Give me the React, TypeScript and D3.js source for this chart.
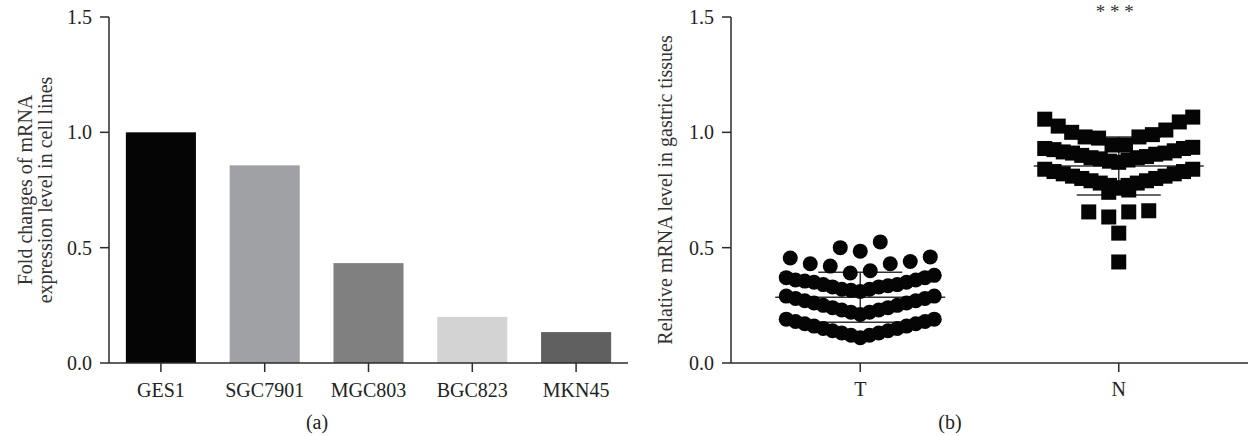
import * as d3 from "d3";

// (a) cell lines bar chart
const cellLines = ["GES1", "SGC7901", "MGC803", "BGC823", "MKN45"];
const foldChanges = [1.0, 0.857, 0.433, 0.2, 0.134];
const barColors = ["#050505", "#a0a1a5", "#808080", "#d3d3d3", "#5f605f"];

// (b) tissues scatter dot plot
const groups = ["T", "N"];
const tumorValues = [
  0.11, 0.12, 0.12, 0.13, 0.13, 0.14, 0.14, 0.15, 0.15, 0.16, 0.16, 0.17, 0.17, 0.18, 0.18, 0.19, 0.19,
  0.21, 0.22, 0.22, 0.23, 0.23, 0.24, 0.24, 0.25, 0.25, 0.26, 0.26, 0.27, 0.27, 0.28, 0.28, 0.29, 0.29,
  0.31, 0.315, 0.32, 0.32, 0.33, 0.33, 0.335, 0.34, 0.34, 0.35, 0.35, 0.355, 0.36, 0.36, 0.37, 0.37, 0.38,
  0.39, 0.40, 0.42, 0.43, 0.43, 0.44, 0.455, 0.46,
  0.485, 0.50, 0.525,
];
const normalValues = [
  0.438, 0.563, 0.633, 0.655, 0.655, 0.66, 0.74, 0.75,
  0.76, 0.77, 0.77, 0.78, 0.78, 0.79, 0.79, 0.80, 0.80, 0.81, 0.81, 0.82, 0.82, 0.83, 0.83, 0.84, 0.84,
  0.87, 0.875, 0.88, 0.885, 0.89, 0.89, 0.895, 0.90, 0.905, 0.91, 0.91, 0.915, 0.92, 0.925, 0.93, 0.93, 0.935,
  0.945, 0.945, 0.975, 0.98, 0.98, 0.99, 1.0, 1.01, 1.027, 1.045, 1.057, 1.066,
];
const tumorRows = [0.1, 0.2, 0.3, 0.385, 0.475, 0.6];
const normalRows = [0.4, 0.5, 0.6, 0.7, 0.755, 0.85, 0.94, 1.1];
const yTicks = [0, 0.5, 1.0, 1.5];

const font = "'Liberation Serif', 'Times New Roman', serif";
const axisColor = "#2b2b2b";

// GraphPad-like spreading: values in a row sorted, lowest in the middle
function spread(values: number[], edges: number[], halfWidth: number, maxGap: number) {
  const rows = edges.slice(0, -1).map((lo, i) =>
    values.filter((v) => v >= lo && v < edges[i + 1]).sort(d3.ascending)
  );
  return rows.flatMap((row) => {
    const n = row.length;
    const gap = n > 1 ? Math.min(maxGap, (2 * halfWidth) / (n - 1)) : 0;
    const slots = d3
      .range(n)
      .map((k) => (k - (n - 1) / 2) * gap)
      .sort((a, b) => Math.abs(a) - Math.abs(b) || a - b);
    return row.map((v, i) => ({ value: v, dx: slots[i] }));
  });
}

function YAxis({ x, y }: { x: number; y: d3.ScaleLinear<number, number> }) {
  return (
    <g>
      <line x1={x} x2={x} y1={y(1.5)} y2={y(0)} stroke={axisColor} strokeWidth={1.5} />
      {yTicks.map((t) => (
        <g key={t}>
          <line x1={x - 9} x2={x} y1={y(t)} y2={y(t)} stroke={axisColor} strokeWidth={1.5} />
          <text x={x - 17} y={y(t)} textAnchor="end" dominantBaseline="central" fontSize={20} fill="#222">
            {t.toFixed(1)}
          </text>
        </g>
      ))}
    </g>
  );
}

export default function App() {
  const y = d3.scaleLinear().domain([0, 1.5]).range([363, 17]);

  const xBar = d3
    .scaleBand<string>()
    .domain(cellLines)
    .range([109, 628])
    .paddingInner(0.325)
    .paddingOuter(0.1625);

  const xGroup = d3.scaleBand<string>().domain(groups).range([731, 1248]);
  const gx = (g: string) => (xGroup(g) ?? 0) + xGroup.bandwidth() / 2;

  const tumorPts = spread(tumorValues, tumorRows, 74, 20);
  const normalPts = spread(normalValues, normalRows, 74, 20);

  const stats = [
    { group: "T", values: tumorValues },
    { group: "N", values: normalValues },
  ].map((d) => ({
    group: d.group,
    mean: d3.mean(d.values) ?? 0,
    sd: d3.deviation(d.values) ?? 0,
  }));

  return (
    <svg
      width={1248}
      height={436}
      style={{ position: "absolute", left: 0, top: 0, background: "#fff" }}
      fontFamily={font}
    >
      {/* (a) */}
      <g>
        {cellLines.map((c, i) => (
          <rect
            key={c}
            x={xBar(c)}
            y={y(foldChanges[i])}
            width={xBar.bandwidth()}
            height={y(0) - y(foldChanges[i])}
            fill={barColors[i]}
          />
        ))}
        <YAxis x={109} y={y} />
        <line x1={109} x2={628} y1={y(0)} y2={y(0)} stroke={axisColor} strokeWidth={1.5} />
        {cellLines.map((c) => {
          const cx = (xBar(c) ?? 0) + xBar.bandwidth() / 2;
          return (
            <g key={c}>
              <line x1={cx} x2={cx} y1={y(0)} y2={y(0) + 9} stroke={axisColor} strokeWidth={1.5} />
              <text x={cx} y={397} textAnchor="middle" fontSize={20} fill="#222">
                {c}
              </text>
            </g>
          );
        })}
        <text transform="translate(32,190) rotate(-90)" textAnchor="middle" fontSize={20} fill="#333">
          Fold changes of mRNA
        </text>
        <text transform="translate(52,190) rotate(-90)" textAnchor="middle" fontSize={20} fill="#333">
          expression level in cell lines
        </text>
        <text x={317} y={429} textAnchor="middle" fontSize={20} fill="#222">
          (a)
        </text>
      </g>

      {/* (b) */}
      <g>
        {stats.map((s) => {
          const cx = gx(s.group);
          return (
            <g key={s.group} stroke="#333" strokeWidth={1.5}>
              <line x1={cx - 85} x2={cx + 85} y1={y(s.mean)} y2={y(s.mean)} />
              <line x1={cx} x2={cx} y1={y(s.mean - s.sd)} y2={y(s.mean + s.sd)} />
              <line x1={cx - 42} x2={cx + 42} y1={y(s.mean + s.sd)} y2={y(s.mean + s.sd)} />
              <line x1={cx - 42} x2={cx + 42} y1={y(s.mean - s.sd)} y2={y(s.mean - s.sd)} />
            </g>
          );
        })}
        {tumorPts.map((p, i) => (
          <circle key={`t-${i}`} cx={gx("T") + p.dx} cy={y(p.value)} r={7.5} fill="#050505" />
        ))}
        {normalPts.map((p, i) => (
          <rect
            key={`n-${i}`}
            x={gx("N") + p.dx - 7.5}
            y={y(p.value) - 7.5}
            width={15}
            height={15}
            fill="#050505"
          />
        ))}
        <YAxis x={731} y={y} />
        <line x1={731} x2={1248} y1={y(0)} y2={y(0)} stroke={axisColor} strokeWidth={1.5} />
        {groups.map((g) => (
          <g key={g}>
            <line x1={gx(g)} x2={gx(g)} y1={y(0)} y2={y(0) + 9} stroke={axisColor} strokeWidth={1.5} />
            <text x={gx(g)} y={396} textAnchor="middle" fontSize={20} fill="#222">
              {g}
            </text>
          </g>
        ))}
        <text transform="translate(672,190) rotate(-90)" textAnchor="middle" fontSize={20} fill="#333">
          Relative mRNA level in gastric tissues
        </text>
        <text x={gx("N") - 4} y={18} textAnchor="middle" fontSize={19} fill="#333">
          * * *
        </text>
        <text x={950} y={429} textAnchor="middle" fontSize={20} fill="#222">
          (b)
        </text>
      </g>
    </svg>
  );
}
